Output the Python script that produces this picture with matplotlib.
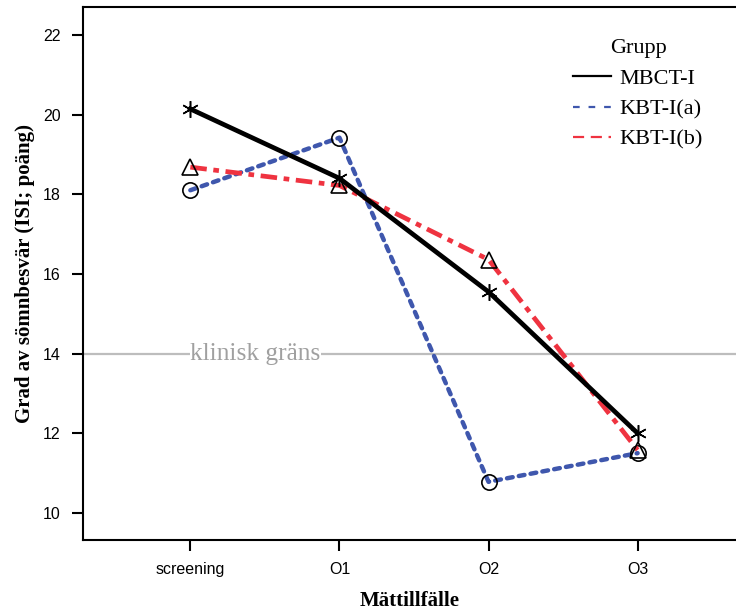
import matplotlib
matplotlib.use("Agg")
import matplotlib.pyplot as plt
from matplotlib.lines import Line2D

categories = ["screening", "O1", "O2", "O3"]
mbct = [20.14, 18.40, 15.55, 12.00]
kbt_a = [18.10, 19.42, 10.78, 11.50]
kbt_b = [18.68, 18.22, 16.36, 11.58]
yticks = [10, 12, 14, 16, 18, 20, 22]
threshold = 14

fig = plt.figure(figsize=(7.36, 6.16), dpi=100)
ax = fig.add_axes([83/736, 1-540/616, 1-83/736, (540-7)/616])

x = list(range(len(categories)))
ax.axhline(threshold, color="#bdbdbd", lw=1.6, zorder=1)
ax.text(0, threshold, "klinisk gräns", color="#a0a0a0", fontsize=18.3,
        family="Liberation Serif", va="center", ha="left",
        bbox=dict(facecolor="white", edgecolor="none", pad=0.5), zorder=2)

ax.plot(x, kbt_a, color="#3f57ad", lw=3.2, linestyle=(0, (1.3, 1.4)), dash_capstyle="round",
        marker="o", markersize=11, markerfacecolor="none", markeredgecolor="black",
        markeredgewidth=1.2, zorder=3)
ax.plot(x, kbt_b, color="#ef3340", lw=3.4, linestyle=(0, (3.5, 1.4, 1.2, 1.4)),
        marker="^", markersize=11, markerfacecolor="none", markeredgecolor="black",
        markeredgewidth=1.2, zorder=4)
ax.plot(x, mbct, color="black", lw=3.4, marker=(6, 2, 0), markersize=12,
        markeredgecolor="black", markeredgewidth=1.1, zorder=5)

ax.set_xlim(-0.72, 3.66)
ax.set_ylim(9.32, 22.7)
ax.set_xticks(x)
ax.set_xticklabels(categories)
ax.set_yticks(yticks)
for lab in ax.get_xticklabels() + ax.get_yticklabels():
    lab.set_family("Liberation Sans")
    lab.set_fontsize(11.5)
ax.tick_params(direction="out", length=8, width=1.5, pad=8)
ax.spines["right"].set_visible(False)
for s in ["left", "bottom", "top"]:
    ax.spines[s].set_linewidth(1.5)

ax.set_xlabel("Mättillfälle", fontsize=15, fontweight="bold", family="Liberation Serif", labelpad=10)
ax.set_ylabel("Grad av sömnbesvär (ISI; poäng)", fontsize=15, fontweight="bold",
              family="Liberation Serif", labelpad=6)

handles = [
    Line2D([], [], color="black", lw=1.6),
    Line2D([], [], color="#3f57ad", lw=1.6, linestyle=(0, (3, 4))),
    Line2D([], [], color="#ef3340", lw=1.6, linestyle=(0, (5, 3))),
]
leg = ax.legend(handles, ["MBCT-I", "KBT-I(a)", "KBT-I(b)"], title="Grupp",
                loc="upper left", bbox_to_anchor=(0.72, 0.977), frameon=False,
                prop={"family": "Liberation Serif", "size": 16},
                title_fontproperties={"family": "Liberation Serif", "size": 16},
                handlelength=1.7, handletextpad=0.4, labelspacing=0.45)

fig.savefig("out.png", dpi=100)
